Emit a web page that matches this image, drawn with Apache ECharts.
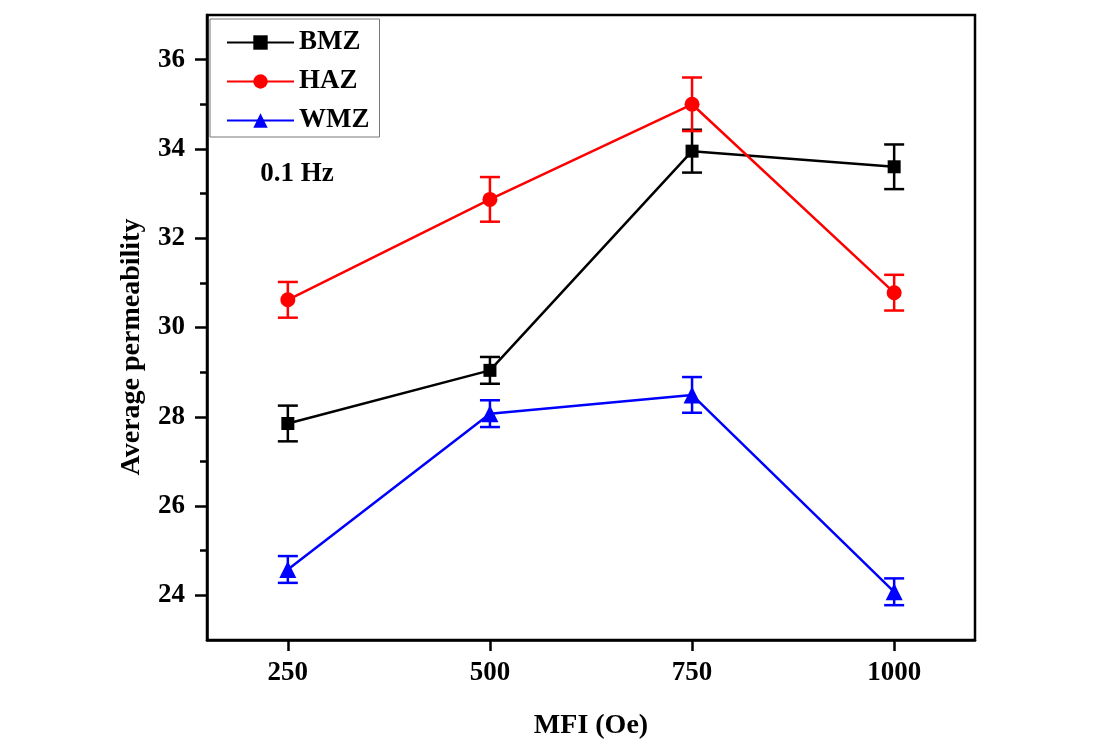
<!DOCTYPE html>
<html>
<head>
<meta charset="utf-8">
<script src="https://cdn.jsdelivr.net/npm/echarts@6/dist/echarts.min.js"></script>
<style>
  html, body { margin: 0; padding: 0; background: #fff; }
  #main { width: 1118px; height: 745px; }
</style>
</head>
<body>
<div id="main"></div>
<script>
// MFI values on the x axis
var mfi = [250, 500, 750, 1000];
// average permeability per zone, with the error half-widths
var bmz = [27.85, 29.04, 33.95, 33.6];
var bmzErr = [0.4, 0.3, 0.48, 0.5];
var haz = [30.62, 32.87, 35.0, 30.78];
var hazErr = [0.4, 0.5, 0.6, 0.4];
var wmz = [24.58, 28.07, 28.49, 24.08];
var wmzErr = [0.3, 0.3, 0.4, 0.3];
// tick labels
var xTicks = [250, 500, 750, 1000];
var yMajor = [24, 26, 28, 30, 32, 34, 36];
var yMinor = [25, 27, 29, 31, 33, 35];

var FONT = '"Liberation Serif", "Times New Roman", serif';

function pts(vals) {
  return mfi.map(function (x, i) { return [x, vals[i]]; });
}

function lineSeries(name, vals, color, symbol, size) {
  return {
    type: 'line',
    name: name,
    data: pts(vals),
    symbol: symbol,
    symbolSize: size,
    lineStyle: { color: color, width: 2.5 },
    itemStyle: { color: color },
    z: 4
  };
}

function errorSeries(name, vals, errs, color) {
  return {
    type: 'custom',
    name: name + ' err',
    data: mfi.map(function (x, i) { return [x, vals[i] - errs[i], vals[i] + errs[i]]; }),
    encode: { x: 0, y: [1, 2] },
    renderItem: function (params, api) {
      var lo = api.coord([api.value(0), api.value(1)]);
      var hi = api.coord([api.value(0), api.value(2)]);
      var half = 10;
      var style = { stroke: color, lineWidth: 2.5 };
      return {
        type: 'group',
        children: [
          { type: 'line', shape: { x1: lo[0], y1: lo[1], x2: hi[0], y2: hi[1] }, style: style },
          { type: 'line', shape: { x1: lo[0] - half, y1: lo[1], x2: lo[0] + half, y2: lo[1] }, style: style },
          { type: 'line', shape: { x1: hi[0] - half, y1: hi[1], x2: hi[0] + half, y2: hi[1] }, style: style }
        ]
      };
    },
    z: 3
  };
}

var chart = echarts.init(document.getElementById('main'));

var option = {
  backgroundColor: '#fff',
  animation: false,
  textStyle: { fontFamily: FONT },
  grid: {
    left: 207, right: 143, top: 15, bottom: 105,
    show: true, borderColor: '#000', borderWidth: 2.5
  },
  legend: {
    data: ['BMZ', 'HAZ', 'WMZ'],
    orient: 'vertical',
    left: 210, top: 19,
    padding: [10, 10, 3, 16],
    itemGap: 12,
    itemWidth: 67,
    itemHeight: 18,
    borderColor: '#777',
    borderWidth: 1,
    textStyle: { fontFamily: FONT, fontWeight: 'bold', fontSize: 27, color: '#000' }
  },
  xAxis: {
    type: 'value',
    min: 150, max: 1100,
    name: 'MFI (Oe)',
    nameLocation: 'middle',
    nameGap: 72,
    nameTextStyle: { fontFamily: FONT, fontWeight: 'bold', fontSize: 28, color: '#000' },
    axisLine: { lineStyle: { color: '#000', width: 2.5 } },
    axisTick: { inside: false, length: 11, customValues: xTicks, lineStyle: { color: '#000', width: 2.5 } },
    axisLabel: {
      customValues: xTicks, margin: 20,
      formatter: function (v) { return String(v); },
      fontFamily: FONT, fontWeight: 'bold', fontSize: 27, color: '#000'
    },
    splitLine: { show: false }
  },
  yAxis: [{
    type: 'value',
    min: 23, max: 37,
    position: 'left',
    axisLine: { lineStyle: { color: '#000', width: 2.5 } },
    axisTick: { inside: false, length: 12, customValues: yMajor, lineStyle: { color: '#000', width: 2.5 } },
    axisLabel: { customValues: yMajor, margin: 22, fontFamily: FONT, fontWeight: 'bold', fontSize: 27, color: '#000' },
    splitLine: { show: false }
  }, {
    type: 'value',
    min: 23, max: 37,
    position: 'left',
    axisLine: { show: false },
    axisTick: { inside: false, length: 7, customValues: yMinor, lineStyle: { color: '#000', width: 2.5 } },
    axisLabel: { show: false },
    splitLine: { show: false }
  }],
  graphic: [{
    type: 'text',
    x: 132, y: 347,
    rotation: Math.PI / 2,
    style: {
      text: 'Average permeability',
      font: 'bold 28px ' + FONT,
      fill: '#000',
      align: 'center',
      verticalAlign: 'middle'
    }
  }, {
    type: 'text',
    x: 297, y: 174,
    style: {
      text: '0.1 Hz',
      font: 'bold 27px ' + FONT,
      fill: '#000',
      align: 'center',
      verticalAlign: 'middle'
    }
  }],
  series: [
    errorSeries('BMZ', bmz, bmzErr, '#000000'),
    errorSeries('HAZ', haz, hazErr, '#ff0000'),
    errorSeries('WMZ', wmz, wmzErr, '#0000ff'),
    lineSeries('BMZ', bmz, '#000000', 'rect', 13),
    lineSeries('HAZ', haz, '#ff0000', 'circle', 15),
    lineSeries('WMZ', wmz, '#0000ff', 'triangle', 17)
  ]
};

chart.setOption(option);
</script>
</body>
</html>
